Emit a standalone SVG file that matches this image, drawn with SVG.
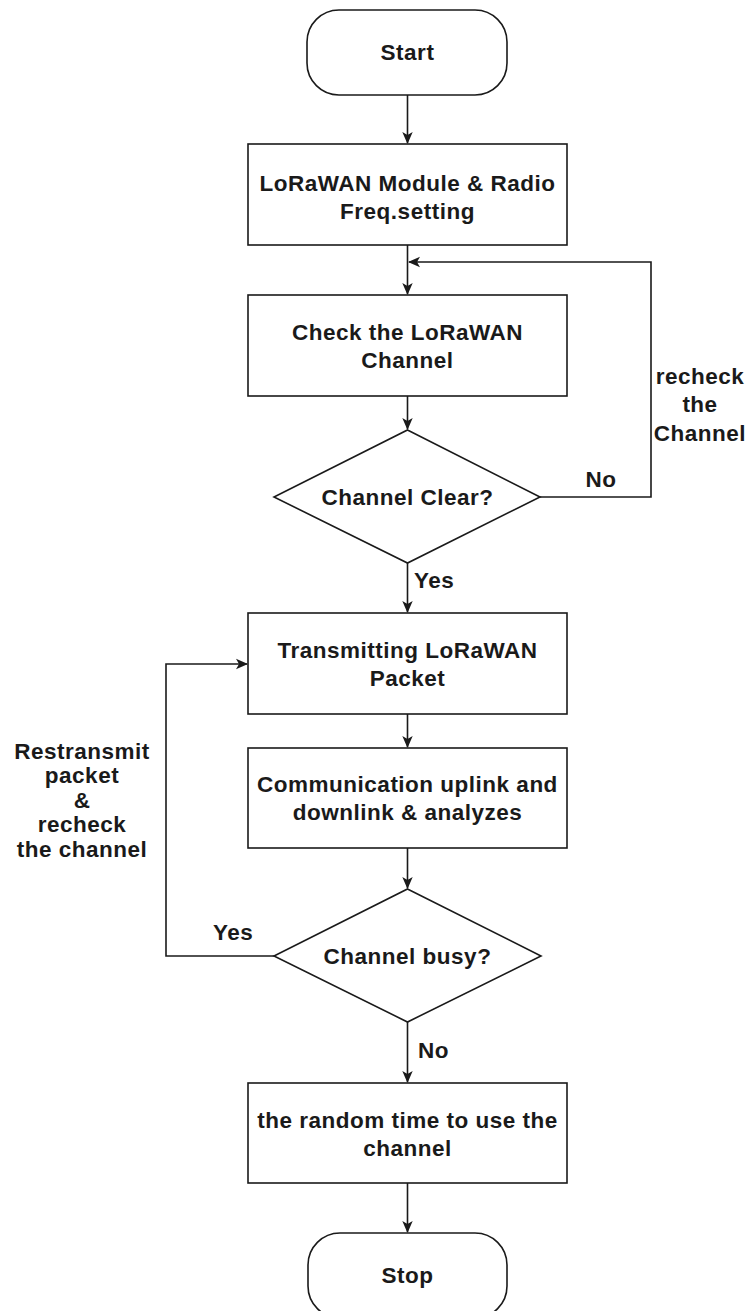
<svg xmlns="http://www.w3.org/2000/svg" width="750" height="1311" viewBox="0 0 750 1311">
  <style>
    .shape { fill: #ffffff; stroke: #1a1a1a; stroke-width: 1.6; }
    .edge { fill: none; stroke: #1a1a1a; stroke-width: 1.6; }
    text { font-family: "Liberation Sans", Arial, sans-serif; font-weight: bold; font-size: 22.5px; letter-spacing: 0.5px; fill: #1a1a1a; }
    .c { text-anchor: middle; }
  </style>
  <defs>
    <marker id="arrow" viewBox="0 0 12 12" refX="11" refY="6" markerWidth="12" markerHeight="12" markerUnits="userSpaceOnUse" orient="auto">
      <path d="M0,0.8 L12,6 L0,11.2 L3,6 Z" fill="#1a1a1a"/>
    </marker>
  </defs>

  <rect width="750" height="1311" fill="#ffffff"/>

  <!-- connectors -->
  <g id="connectors">
    <path class="edge" d="M407.5,95 V143" marker-end="url(#arrow)"/>
    <path class="edge" d="M407.5,245 V294" marker-end="url(#arrow)"/>
    <path class="edge" d="M407.5,396 V429" marker-end="url(#arrow)"/>
    <path class="edge" d="M540,497 H651 V262 H409" marker-end="url(#arrow)"/>
    <path class="edge" d="M407.5,563 V612" marker-end="url(#arrow)"/>
    <path class="edge" d="M407.5,714 V747" marker-end="url(#arrow)"/>
    <path class="edge" d="M407.5,848 V888" marker-end="url(#arrow)"/>
    <path class="edge" d="M274,956 H166 V664 H247" marker-end="url(#arrow)"/>
    <path class="edge" d="M407.5,1022 V1082" marker-end="url(#arrow)"/>
    <path class="edge" d="M407.5,1183 V1232" marker-end="url(#arrow)"/>

    <text x="601" y="487" class="c">No</text>
    <text x="700" y="384" class="c">recheck</text>
    <text x="700" y="412" class="c">the</text>
    <text x="700" y="441" class="c">Channel</text>
    <text x="414" y="588">Yes</text>
    <text x="82" y="759" class="c">Restransmit</text>
    <text x="82" y="783" class="c">packet</text>
    <text x="82" y="808" class="c">&amp;</text>
    <text x="82" y="832" class="c">recheck</text>
    <text x="82" y="857" class="c">the channel</text>
    <text x="213" y="940">Yes</text>
    <text x="418" y="1058">No</text>
  </g>

  <g id="start">
    <rect class="shape" x="307" y="10" width="200" height="85" rx="32" ry="32"/>
    <text x="407.5" y="60" class="c">Start</text>
  </g>

  <g id="module-setting">
    <rect class="shape" x="248" y="144" width="319" height="101"/>
    <text x="407.5" y="191" class="c">LoRaWAN Module &amp; Radio</text>
    <text x="407.5" y="219" class="c">Freq.setting</text>
  </g>

  <g id="check-channel">
    <rect class="shape" x="248" y="295" width="319" height="101"/>
    <text x="407.5" y="340" class="c">Check the LoRaWAN</text>
    <text x="407.5" y="368" class="c">Channel</text>
  </g>

  <g id="channel-clear">
    <polygon class="shape" points="407.5,430 540,497 407.5,563 274,497"/>
    <text x="407.5" y="505" class="c">Channel Clear?</text>
  </g>

  <g id="transmit-packet">
    <rect class="shape" x="248" y="613" width="319" height="101"/>
    <text x="407.5" y="658" class="c">Transmitting LoRaWAN</text>
    <text x="407.5" y="686" class="c">Packet</text>
  </g>

  <g id="communication">
    <rect class="shape" x="248" y="748" width="319" height="100"/>
    <text x="407.5" y="792" class="c">Communication uplink and</text>
    <text x="407.5" y="820" class="c">downlink &amp; analyzes</text>
  </g>

  <g id="channel-busy">
    <polygon class="shape" points="407.5,889 541,956 407.5,1022 274,956"/>
    <text x="407.5" y="964" class="c">Channel busy?</text>
  </g>

  <g id="random-time">
    <rect class="shape" x="248" y="1083" width="319" height="100"/>
    <text x="407.5" y="1128" class="c">the random time to use the</text>
    <text x="407.5" y="1156" class="c">channel</text>
  </g>

  <g id="stop">
    <rect class="shape" x="308" y="1233" width="199" height="85" rx="32" ry="32"/>
    <text x="407.5" y="1283" class="c">Stop</text>
  </g>
</svg>
